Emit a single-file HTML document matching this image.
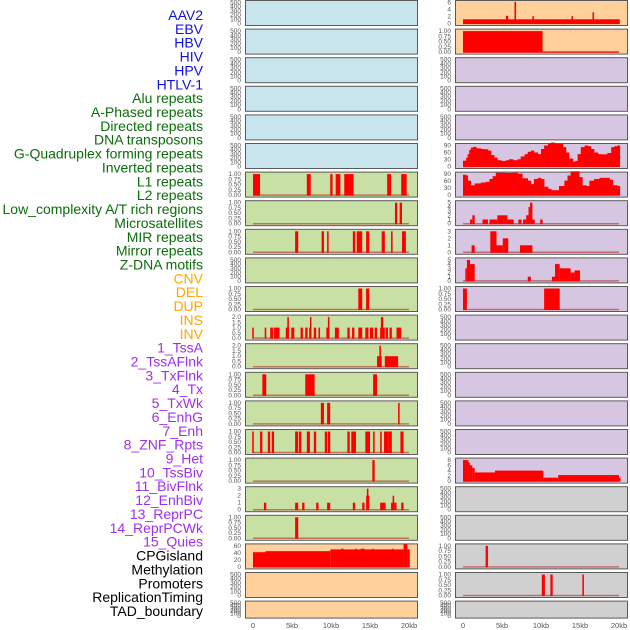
<!DOCTYPE html>
<html><head><meta charset="utf-8"><style>
body{margin:0;background:#fff}
svg{display:block;font-family:"Liberation Sans",sans-serif}
</style></head><body>
<svg id="c" width="630" height="630" viewBox="0 0 630 630" xmlns="http://www.w3.org/2000/svg"></svg>
<script>
const labels=["AAV2","EBV","HBV","HIV","HPV","HTLV-1","Alu repeats","A-Phased repeats","Directed repeats","DNA transposons","G-Quadruplex forming repeats","Inverted repeats","L1 repeats","L2 repeats","Low_complexity A/T rich regions","Microsatellites","MIR repeats","Mirror repeats","Z-DNA motifs","CNV","DEL","DUP","INS","INV","1_TssA","2_TssAFlnk","3_TxFlnk","4_Tx","5_TxWk","6_EnhG","7_Enh","8_ZNF_Rpts","9_Het","10_TssBiv","11_BivFlnk","12_EnhBiv","13_ReprPC","14_ReprPCWk","15_Quies","CPGisland","Methylation","Promoters","ReplicationTiming","TAD_boundary"];
const groups=["v","v","v","v","v","v","r","r","r","r","r","r","r","r","r","r","r","r","r","c","c","c","c","c","h","h","h","h","h","h","h","h","h","h","h","h","h","h","h","o","o","o","o","o"];
const xTicks=[0,5,10,15,20];
const xTickLabels=["0","5kb","10kb","15kb","20kb"];
// track index -> [ymax, starts(kb), ends(kb), values]
const alu_s=[0,6.9,9.9,10.6,11.7,17.2,19.0], alu_e=[0.9,7.4,10.2,11.2,12.9,17.7,19.7], alu_v=[1,1,1,1,1,1,1];
const aph_s=[18.2,18.8], aph_e=[18.5,19.1], aph_v=[1,1];
const dir_s=[5.4,8.8,9.5,12.8,13.3,14.5,16.5,17.7,19.1], dir_e=[5.8,9.1,9.7,13.1,14.0,14.9,16.9,17.9,19.6], dir_v=[1,1,1,1,1,1,1,1,1];
const gq_s=[13.5,14.5], gq_e=[14.0,14.9], gq_v=[1,1];
const inv_s=[-0.1,1.5,2.2,2.7,4.2,4.9,6.1,6.7,7.2,7.8,8.4,9.4,10.5,12.1,12.7,13.5,14.4,15.0,15.6,16.3,17.0,17.5,18.4, 4.4,7.3,9.6,16.4];
const inv_e=[0.1,1.7,2.6,3.4,4.6,5.3,6.4,7.0,7.4,8.1,8.6,9.8,11.0,12.4,13.0,14.0,14.8,15.4,15.9,16.9,17.3,17.8,19.0, 4.6,7.4,9.8,16.7];
const inv_v=[1,1,1,1,1,1,1,1,1,1,1,1,1,1,1,1,1,1,1,1,1,1,1, 2,2,2,2];
const l1_s=[15.9,16.9,16.2], l1_e=[16.5,18.6,16.4], l1_v=[1,1,2];
const l2_s=[1.2,6.7,15.4], l2_e=[1.7,7.9,15.9], l2_v=[1,1,1];
const low_s=[8.7,9.5,18.6], low_e=[9.1,9.9,18.8], low_v=[1,1,1];
const mic_s=[-0.1,0.9,1.9,2.4,5.4,5.9,6.9,7.8,9.2,9.6,12.1,12.6,14.4,15.4,16.3,16.8,17.4,18.9];
const mic_e=[0.1,1.2,2.2,2.7,5.8,6.2,7.3,8.1,9.5,9.9,12.4,13.2,15.0,15.6,16.5,17.4,17.8,19.3];
const mic_v=[1,1,1,1,1,1,1,1,1,1,1,1,1,1,1,1,1,1];
const mir_s=[15.3], mir_e=[15.6], mir_v=[1];
const mrr_s=[1.4,5.4,6.3,8.1,9.5,12.8,14.0,14.5,14.6,16.3,16.6,17.7,17.9,18.1,19.0], mrr_e=[1.7,5.8,6.6,8.4,9.9,13.1,14.3,14.9,14.8,16.6,17.0,18.1,18.1,18.4,19.3], mrr_v=[1,1,1,1,1,1,1,2,3,1,1,1,2,1,1];
const zdna_s=[5.4], zdna_e=[5.8], zdna_v=[1];
const cnv_s=[0,1.6,9.9,11.3,13.1,13.8,15.3,17.8,19.3,19.8], cnv_e=[1.6,9.9,19.3,11.6,13.3,14.3,15.5,18.0,19.8,20.1], cnv_v=[42,45,50,52,52,52,52,52,65,50];
const ins_s=[0,5.5,6.6,8.9,13.9,16.6], ins_e=[20.1,5.8,6.8,9.1,14.1,16.8], ins_v=[1.2,2.2,6.2,2.1,2.1,3.2];
const insv_s=[0,10.2], insv_e=[10.2,20.0], insv_v=[1,0.03];
const tx_k=[0,0.4,0.6,0.8,1.0,1.3,1.7,2.3,2.7,3.2,3.6,4.0,4.4,4.9,5.5,5.9,6.4,7.0,7.4,7.9,8.3,8.7,9.1,9.6,10.0,10.4,10.9,11.3,11.7,12.1,12.8,13.2,13.6,14.1,14.4,14.7,15.1,15.6,16.0,16.4,16.8,17.3,17.7,18.1,18.5,19.0,19.4,19.8,20.1];
const tx_v=[25,38,53,71,81,84,78,75,74,68,49,38,27,24,27,31,27,31,43,53,63,68,60,53,75,90,100,103,100,97,83,60,34,21,24,53,83,90,87,75,60,53,52,52,58,83,87,90,94];
const txwk_k=[0,0.4,0.6,1.0,1.5,2.3,2.9,3.4,3.8,4.2,4.9,5.5,6.2,7.0,7.6,8.3,8.7,9.1,9.6,10.0,10.4,10.9,11.3,12.0,12.3,13.0,13.4,13.8,14.5,14.9,15.3,15.8,16.2,16.8,17.5,18.1,18.8,19.2,19.8,20.1];
const txwk_v=[87,84,62,42,50,54,57,69,81,96,96,95,96,92,72,62,47,69,74,69,36,27,21,21,39,62,84,102,102,77,42,39,62,69,74,74,66,42,39,33];
const enhg_s=[0.9,1.2,2.5,3.4,4.4,5.7,7.1,7.7,8.1,8.4,8.6,8.9,9.9], enhg_e=[1.2,1.5,3.2,4.4,5.7,6.5,7.5,8.1,8.4,8.6,8.9,9.2,10.2], enhg_v=[1,2,1,1,2,1,1,1,2,4,5,1,1];
const enh_s=[1.1,3.5,4.3,5.1,7.3], enh_e=[1.5,4.3,5.1,5.8,8.9], enh_v=[1,3,1,2,1];
const znf_s=[0.3,0.5,0.9,8.3,11.4,11.8,12.4,13.8,14.3], znf_e=[0.5,0.9,1.5,8.7,11.8,12.4,13.8,14.3,15.0], znf_v=[3,5,4,1,1,4,3,2,2.5];
const het_s=[0,10.4], het_e=[0.5,12.4], het_v=[1,1];
const qui_s=[0,0.7,0.9,1.2,1.5,4.1,10.3,12.2,20.0], qui_e=[0.7,0.9,1.2,1.5,4.1,10.3,12.2,20.0,20.2], qui_v=[8,7,6,5,3.3,4,1.3,2.3,1.3];
const prom_s=[2.9], prom_e=[3.2], prom_v=[1];
const rep_s=[10.1,11.2,15.3], rep_e=[10.5,11.5,15.5], rep_v=[1,1,1];

const tracks={6:[1,alu_s,alu_e,alu_v],7:[1,aph_s,aph_e,aph_v],8:[1,dir_s,dir_e,dir_v],10:[1,gq_s,gq_e,gq_v],11:[2,inv_s,inv_e,inv_v],12:[2,l1_s,l1_e,l1_v],13:[1,l2_s,l2_e,l2_v],14:[1,low_s,low_e,low_v],15:[1,mic_s,mic_e,mic_v],16:[1,mir_s,mir_e,mir_v],17:[3,mrr_s,mrr_e,mrr_v],18:[1,zdna_s,zdna_e,zdna_v],19:[60,cnv_s,cnv_e,cnv_v],22:[6,ins_s,ins_e,ins_v],23:[1,insv_s,insv_e,insv_v],29:[5,enhg_s,enhg_e,enhg_v],30:[3,enh_s,enh_e,enh_v],31:[5,znf_s,znf_e,znf_v],32:[1,het_s,het_e,het_v],38:[8,qui_s,qui_e,qui_v],41:[1,prom_s,prom_e,prom_v],42:[1,rep_s,rep_e,rep_v]};
const curves={27:[90,tx_k,tx_v],28:[90,txwk_k,txwk_v]};
const tickSets={1:[0,0.25,0.5,0.75,1],2:[0,0.5,1,1.5,2],3:[0,1,2,3],5:[0,1,2,3,4,5],6:[0,2,4,6],8:[0,2,4,6,8],60:[0,20,40,60],90:[0,30,60,90],500:[0,100,200,300,400,500]};
const fills={v:"#c8e4ec",r:"#c8e0a4",c:"#ffd09c",h:"#d6c6e2",o:"#d0d0d0"};
const lblCol={v:"#1010e0",r:"#0a6e0a",c:"#ffa500",h:"#a030e8",o:"#000"};
const svg=document.getElementById('c');
const NS="http://www.w3.org/2000/svg";
function mk(t,a,p){const e=document.createElementNS(NS,t);for(const k in a)e.setAttribute(k,a[k]);(p||svg).appendChild(e);return e;}
function xs(col,kb){return (col?463:253)+kb*7.8;}
function fmt(ymax,v){if(ymax===1)return v.toFixed(2);if(ymax===2)return v.toFixed(1);return String(v);}

labels.forEach((t,i)=>{
  const e=mk('text',{x:203,y:20+i*13.86,'text-anchor':'end','font-size':'14',fill:lblCol[groups[i]]});
  e.textContent=t;
  
  
});

for(let i=0;i<44;i++){
  const col=i<22?0:1,row=i%22;
  const top=row*28.6, h=row===21?17:25;
  const px=col?455:245;
  const g=mk('g',{});
  
  
  mk('rect',{x:px+0.5,y:top+0.5,width:172,height:h,fill:fills[groups[i]],stroke:"#5a5a5a",'stroke-width':1},g);
  const tr=tracks[i],cv=curves[i];
  const ymax=tr?tr[0]:(cv?cv[0]:500);
  const y0=top+h-1.5,y1=top+2.5;
  const ys=v=>y0-(v/ymax)*(y0-y1);
  (tickSets[ymax]||[0,ymax]).forEach(v=>{
    const e=mk('text',{x:px-4,y:ys(v)+2,'text-anchor':'end','font-size':'6.5',fill:"#555"},g);
    e.textContent=fmt(ymax,v);
    
    
  });
  if(tr||cv){
    mk('line',{x1:xs(col,0),x2:xs(col,20),y1:y0,y2:y0,stroke:"#b03030",'stroke-width':1.5,opacity:0.6},g);
  }
  if(tr){
    for(let k=0;k<tr[1].length;k++){
      const xa=xs(col,tr[1][k]),xb=xs(col,tr[2][k]);
      const b=mk('rect',{x:xa,y:ys(tr[3][k]),width:Math.max(1.5,xb-xa),height:y0-ys(tr[3][k])+0.5,fill:"#ff0000"},g);
      
      
    }
  }
  if(cv){
    for(let k=0;k<cv[1].length-1;k++){
      const xa=xs(col,cv[1][k]),xb=xs(col,cv[1][k+1]);
      const b=mk('rect',{x:xa,y:ys(cv[2][k]),width:xb-xa+0.3,height:y0-ys(cv[2][k])+0.5,fill:"#ff0000"},g);
      
      
    }
  }
}
[0,1].forEach(col=>{
  xTicks.forEach((v,k)=>{
    const e=mk('text',{x:xs(col,v),y:628,'text-anchor':'middle','font-size':'7.5',fill:"#555"});
    e.textContent=xTickLabels[k];
    
    
  });
});
</script>
</body></html>
